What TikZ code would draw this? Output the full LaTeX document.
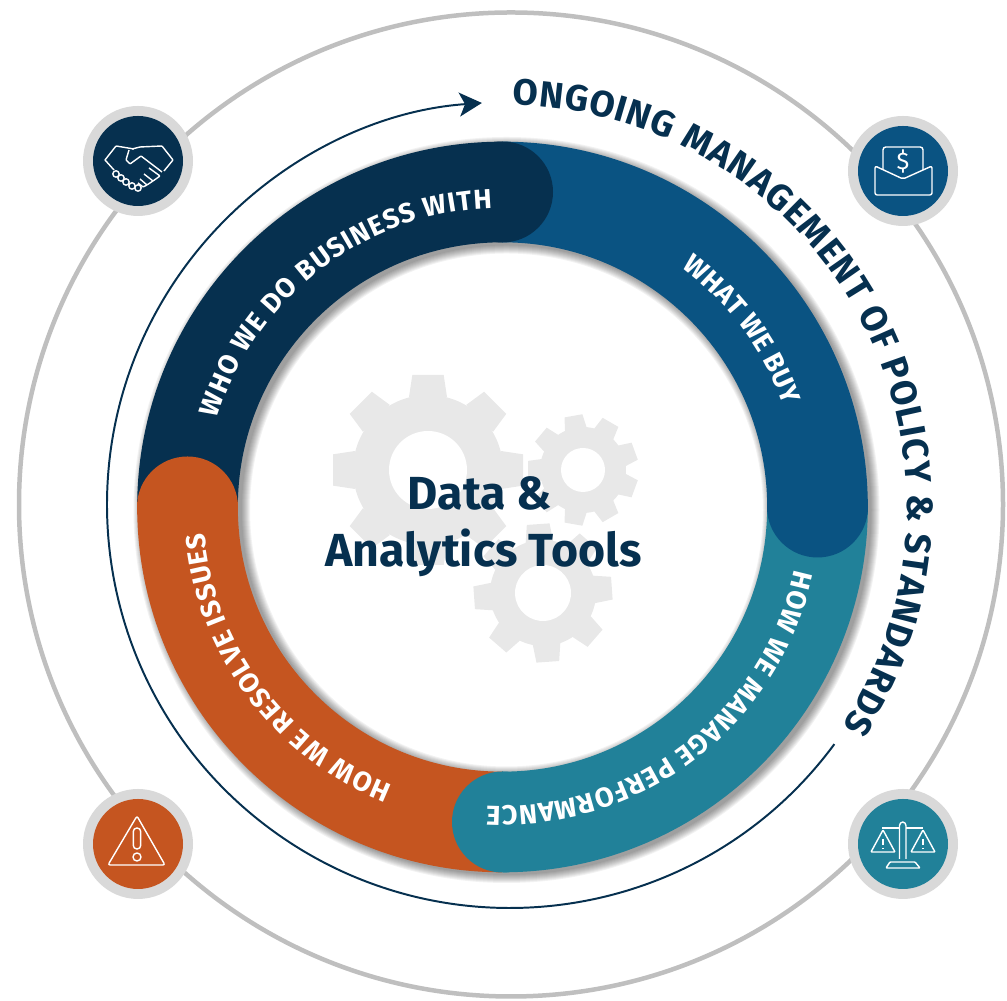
\documentclass[tikz,border=0pt]{standalone}
\usepackage{fontspec}
\setmainfont{Fira Sans}
\usetikzlibrary{decorations.text,arrows.meta}
\definecolor{navy}{HTML}{06304F}
\definecolor{bluebar}{HTML}{0A5382}
\definecolor{tealbar}{HTML}{218199}
\definecolor{orangebar}{HTML}{C55520}
\definecolor{gearfill}{HTML}{E8E8E8}
\definecolor{discgrey}{HTML}{D9D9D9}
\definecolor{ringgrey}{HTML}{BFBFBF}
\newcommand{\bandfont}{\bfseries\fontsize{19.5}{19.5}\selectfont\color{white}}
\newcommand{\ongoingfont}{\bfseries\fontsize{26}{26}\selectfont\color{navy}}
\newcommand{\drawgear}[7]{% x, y, tip radius, root radius, hole radius, teeth, turn
  \begin{scope}[shift={(#1,#2)},rotate=#7]
    \fill[gearfill] (0,0) circle (#4);
    \foreach \n in {1,...,#6} {
      \fill[gearfill,rotate=\n*360/#6] (-#3*0.2,#4-2) -- (-#3*0.165,#3) -- (#3*0.165,#3) -- (#3*0.2,#4-2) -- cycle;
    }
    \fill[white] (0,0) circle (#5);
  \end{scope}
}
\tikzset{
  iconline/.style={draw=white,line width=1pt,line join=round,rounded corners=0.5pt},
  bandtext/.style={decorate,decoration={text along path,text align=fit to path,text={|\bandfont|#1}}},
  ongoingtext/.style={decorate,decoration={text along path,text align=fit to path,text={|\ongoingfont|#1}}}
}
\begin{document}
\begin{tikzpicture}[x=0.25mm,y=0.25mm]
  \useasboundingbox (0,0) rectangle (1007,1001);
  % outer ring and thin arrow
  \draw[ringgrey,line width=3.2pt] (511,496.5) circle (492);
  \draw[navy,line width=1.4pt,-{Stealth[length=16pt,width=17pt,inset=4pt]}] ([shift={(510,496)}]-36.4:403) arc[start angle=-36.4,end angle=-266,radius=403];
  % gears
  \drawgear{428}{531}{95}{75}{39}{8}{0}
  \drawgear{583}{531}{55}{43}{22}{9}{10}
  \drawgear{543}{408}{69}{53}{28}{8}{4}
  \begin{scope}[shift={(502.5,494)}]
    % soft shadow of the ring
    \foreach \d in {0,1,...,8} {
      \fill[black,opacity=0.05,even odd rule,shift={(4,-3)}] (0,0) circle (365+\d) (0,0) circle (264.5-\d);
    }
    % bands
    \draw[navy,line width=71.6pt] (180:315) arc[start angle=180,end angle=90,radius=315];
    \draw[orangebar,line width=71.6pt] (-90:315) arc[start angle=-90,end angle=-180,radius=315];
    \fill[orangebar] (180:315) circle (50.5);
    \draw[tealbar,line width=71.6pt] (0:315) arc[start angle=0,end angle=-90,radius=315];
    \fill[tealbar] (-90:315) circle (50.5);
    \draw[bluebar,line width=71.6pt] (90:315) arc[start angle=90,end angle=0,radius=315];
    \fill[bluebar] (0:315) circle (50.5);
    \fill[navy] (90:315) circle (50.5);
    % band labels
    \path[bandtext={WHO WE DO BUSINESS WITH}] (162.7:299) arc[start angle=162.7,end angle=92,radius=299];
    \path[bandtext={WHAT WE BUY}] (53.2:299) arc[start angle=53.2,end angle=20,radius=299];
    \path[bandtext={HOW WE MANAGE PERFORMANCE}] (-12.1:299) arc[start angle=-12.1,end angle=-93,radius=299];
    \path[bandtext={HOW WE RESOLVE ISSUES}] (-111.5:299) arc[start angle=-111.5,end angle=-175,radius=299];
  \end{scope}
  \path[ongoingtext={ONGOING MANAGEMENT OF POLICY {\&} STANDARDS}] ([shift={(505,494)}]89:402) arc[start angle=89,end angle=-33,radius=402];
  % centre text
  \node[text=navy,font=\bfseries\fontsize{33}{33}\selectfont,anchor=base] (title1) at (480,491) {Data \&};
  \node[text=navy,font=\bfseries\fontsize{33}{33}\selectfont,anchor=base] (title2) at (483.5,434) {Analytics Tools};
  % icon discs
  \foreach \nm/\x/\y/\c in {hands/138/840/navy,money/903/830/bluebar,alert/138/157/orangebar,scales/903/157/tealbar} {
    \node[circle,fill=discgrey,minimum size=110*0.25mm,inner sep=0pt] (\nm out) at (\x,\y) {};
    \node[circle,fill=\c,minimum size=90*0.25mm,inner sep=0pt] (\nm) at (\x,\y) {};
  }
  % handshake
  \begin{scope}[shift={(hands.center)},iconline]
    \draw (-33,1) -- (-22,15) -- (-4,12) (-33,1) -- (-24,-9);
    \draw (-9,11) -- (-12,1) -- (-8,-3) -- (3,5) -- (24,-11);
    \draw (-6,12) -- (2,14) -- (24,15) -- (35,1) -- (26,-10);
    \foreach \x/\y in {-22/-13,-17/-17,-12/-21,-6/-25,0/-27} {
      \draw[fill=navy] (\x,\y) circle (3.2);
    }
    \draw (0,-22) -- (5,-26) -- (9,-24) -- (2,-18) (9,-24) -- (15,-20) -- (6,-13) (15,-20) -- (22,-15) -- (11,-7);
  \end{scope}
  % envelope with note
  \begin{scope}[shift={(money.center)},iconline]
    \draw[rounded corners=2pt] (-20,1) -- (-20,24) -- (20,24) -- (20,1);
    \draw[rounded corners=1.5pt] (-28,5) -- (-28,-24) -- (29,-24) -- (29,5) -- (0,-8) -- cycle;
    \node[text=white,font=\fontsize{17}{17}\selectfont,inner sep=0pt] (dollar) at (0,9) {\$};
  \end{scope}
  % warning triangle
  \begin{scope}[shift={(alert.center)},iconline]
    \draw[rounded corners=1.5pt] (-1,28) -- (-30,-21) -- (27,-21) -- cycle;
    \draw[rounded corners=2.5pt] (-4.7,16) rectangle (2.7,-5);
    \draw (-1,-13) circle (4);
  \end{scope}
  % scales
  \begin{scope}[shift={(scales.center)},iconline]
    \draw[rounded corners=2.5pt] (-3.5,-15) -- (-3.5,22) -- (3,22) -- (3,-15);
    \draw (-21,16) -- (-3.5,16) (3,16) -- (20,16);
    \draw (-20,14) -- (-32,-8) -- (-8,-8) -- cycle;
    \draw (20,14) -- (8,-8) -- (32,-8) -- cycle;
    \draw (-20,5) -- (-20,-1) (20,5) -- (20,-1) (-20,-4) -- (-20,-5) (20,-4) -- (20,-5);
    \draw (-13,-18) -- (12,-18) -- (17,-24) -- (-17,-24) -- cycle;
  \end{scope}
\end{tikzpicture}
\end{document}
